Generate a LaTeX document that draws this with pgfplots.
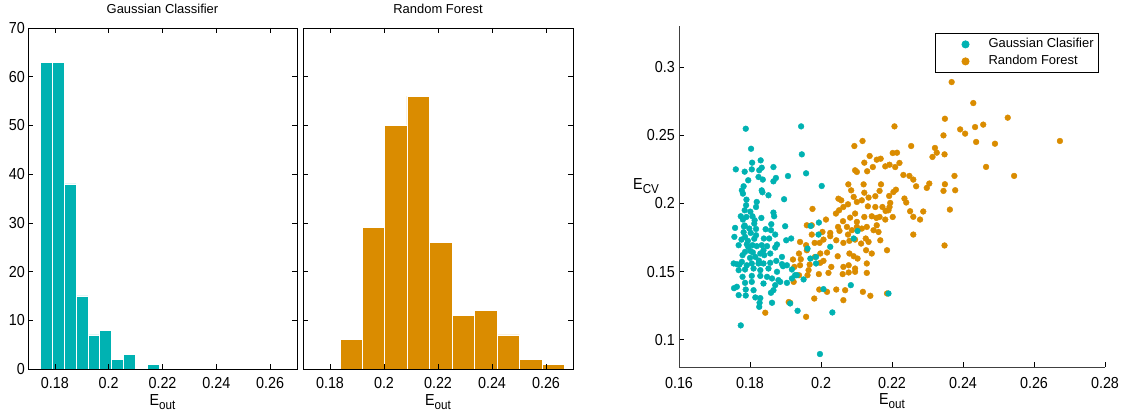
\documentclass[border=0pt]{standalone}
\usepackage{fontspec}
\setmainfont[FakeStretch=0.9]{Liberation Sans}
\newfontfamily\plainfont{Liberation Sans}
\usepackage{pgfplots}
\pgfplotsset{compat=1.18}
\definecolor{gc}{RGB}{0,178,178}
\definecolor{rf}{RGB}{218,140,0}

\pgfplotsset{
  matlab/.style={
    scale only axis,
    /pgf/number format/assume math mode=true,
    tick label style={font=\fontsize{16}{16}\selectfont},
    tick align=inside,
    major tick length=5bp,
    tick style={black, line width=0.6bp},
    axis line style={line width=0.8bp},
    xticklabel style={anchor=north, inner sep=0pt, yshift=-8bp},
    yticklabel style={anchor=east, inner sep=0pt, xshift=-3bp},
    xlabel style={font=\fontsize{16}{16}\selectfont, at={(axis description cs:0.5,0)},
      anchor=base, inner sep=0pt, yshift=-36bp},
    title style={font=\plainfont\fontsize{13}{13}\selectfont, at={(axis description cs:0.5,1)},
      anchor=base, inner sep=0pt, yshift=9bp},
  },
  hist/.style={matlab, width=269bp, height=341bp, axis on top,
    xmin=0.17, xmax=0.27, ymin=0, ymax=70,
    xtick={0.18,0.2,0.22,0.24,0.26}, ytick={0,10,20,30,40,50,60,70}},
}
\newcommand{\Eout}{E\raisebox{-0.5ex}{\fontsize{13}{13}\selectfont out}}

\begin{document}
\begin{tikzpicture}
\useasboundingbox (0,0) rectangle (1124bp,412bp);

% histogram, gaussian classifier
\begin{axis}[hist, at={(28bp,43bp)}, title={Gaussian Classifier}, xlabel={\Eout}]
  \addplot[ybar interval, fill=gc, draw=white, line width=0.7bp] coordinates {
    (0.1747,63) (0.1791,63) (0.1835,38) (0.1879,15) (0.1923,7) (0.1967,8)
    (0.2011,2) (0.2055,3) (0.2099,0) (0.2143,1) (0.2187,1)};
\end{axis}

% histogram, random forest
\begin{axis}[hist, at={(303bp,43bp)}, width=270bp, title={Random Forest}, xlabel={\Eout},
    yticklabels={}]
  \addplot[ybar interval, fill=rf, draw=white, line width=0.7bp] coordinates {
    (0.1838,6) (0.1920,29) (0.2002,50) (0.2085,56) (0.2169,26) (0.2253,11)
    (0.2334,12) (0.2419,7) (0.2502,2) (0.2585,1) (0.2667,1)};
\end{axis}

% scatter E_cv against E_out
\begin{axis}[matlab, at={(679bp,45bp)}, width=426bp, height=341bp,
    xmin=0.16, xmax=0.28, ymin=0.08, ymax=0.33,
    axis x line*=bottom, axis y line*=left,
    axis line style={black!75, line width=0.8bp},
    xtick={0.16,0.18,0.2,0.22,0.24,0.26,0.28},
    ytick={0.1,0.15,0.2,0.25,0.3},
    xticklabel style={yshift=-2bp},
    yticklabel style={xshift=-1bp},
    xlabel={\Eout}, xlabel style={yshift=-1bp},
    ylabel={E\raisebox{-0.5ex}{\fontsize{13}{13}\selectfont CV}},
    ylabel style={rotate=-90, font=\fontsize{16}{16}\selectfont,
      at={(axis description cs:-0.108,0.52)}, anchor=base west, inner sep=0pt},
    legend style={at={(axis description cs:1,1)}, anchor=north east, xshift=-6bp, yshift=-7bp,
      draw=black, line width=0.8bp, font=\plainfont\fontsize{13}{13}\selectfont,
      inner xsep=2bp, inner ysep=4bp, row sep=3bp,
      nodes={inner xsep=3bp, inner ysep=1bp, text height=9bp, text depth=3bp}},
    legend cell align=left, reverse legend,
    legend image code/.code={\path[draw=none, fill=none] (0bp,-4bp) rectangle (48bp,4bp);
      \draw[#1, mark size=3.6bp] plot coordinates {(28bp,0bp)};},
  ]
  \addplot[only marks, mark=*, mark size=2.9bp, color=rf] table {
x y
0.2207 0.2564
0.2094 0.2420
0.2117 0.2457
0.2214 0.2371
0.2202 0.2369
0.2137 0.2347
0.2122 0.2298
0.2157 0.2320
0.2168 0.2327
0.2193 0.2283
0.2096 0.2242
0.2101 0.2230
0.2130 0.2235
0.2146 0.2266
0.2181 0.2271
0.2209 0.2266
0.2221 0.2296
0.2077 0.2139
0.2085 0.2095
0.2120 0.2139
0.2092 0.2047
0.2122 0.2078
0.2134 0.2042
0.2153 0.2052
0.2169 0.2139
0.2165 0.2091
0.2192 0.2054
0.2204 0.2083
0.2211 0.2100
0.1976 0.1959
0.2049 0.2034
0.2057 0.2022
0.2063 0.1973
0.2076 0.1993
0.2101 0.2010
0.2115 0.2022
0.2132 0.1978
0.2153 0.1973
0.2173 0.1973
0.2182 0.1944
0.2193 0.1973
0.2195 0.2003
0.2190 0.1949
0.2014 0.1881
0.2042 0.1925
0.2051 0.1949
0.2062 0.1869
0.2082 0.1895
0.2096 0.1925
0.2101 0.1864
0.2122 0.1900
0.2143 0.1905
0.2156 0.1893
0.2165 0.1900
0.2181 0.1881
0.2202 0.1900
0.1960 0.1839
0.1974 0.1839
0.1974 0.1771
0.2004 0.1790
0.2026 0.1783
0.2048 0.1827
0.2052 0.1798
0.2073 0.1827
0.2076 0.1771
0.2087 0.1803
0.2101 0.1827
0.2115 0.1815
0.2129 0.1827
0.2148 0.1803
0.2162 0.1790
0.2157 0.1839
0.1941 0.1717
0.1958 0.1693
0.1982 0.1710
0.1996 0.1710
0.2007 0.1734
0.2026 0.1759
0.2043 0.1729
0.2063 0.1710
0.2080 0.1725
0.2096 0.1734
0.2113 0.1705
0.2126 0.1742
0.2134 0.1717
0.2167 0.1729
0.1938 0.1632
0.1943 0.1590
0.1960 0.1656
0.1983 0.1607
0.1998 0.1632
0.2017 0.1639
0.2047 0.1612
0.2080 0.1632
0.2092 0.1612
0.2103 0.1595
0.2127 0.1656
0.2143 0.1632
0.2186 0.1656
0.1921 0.1588
0.1925 0.1534
0.1941 0.1546
0.1968 0.1551
0.1998 0.1564
0.2007 0.1578
0.2029 0.1534
0.2063 0.1534
0.2078 0.1546
0.2096 0.1522
0.2129 0.1559
0.1965 0.1510
0.1938 0.1473
0.1923 0.1424
0.1962 0.1473
0.1994 0.1481
0.2021 0.1490
0.2061 0.1481
0.2078 0.1493
0.2096 0.1498
0.2129 0.1490
0.1995 0.1368
0.1981 0.1302
0.2017 0.1351
0.2043 0.1368
0.2068 0.1363
0.2063 0.1290
0.2118 0.1351
0.2139 0.1322
0.2186 0.1339
0.1909 0.1276
0.1913 0.1271
0.1843 0.1198
0.1958 0.1168
0.2368 0.2889
0.2429 0.2735
0.2349 0.2620
0.2526 0.2628
0.2392 0.2542
0.2406 0.2511
0.2434 0.2559
0.2457 0.2577
0.2437 0.2450
0.2490 0.2437
0.2345 0.2498
0.2673 0.2457
0.2254 0.2420
0.2321 0.2406
0.2326 0.2371
0.2314 0.2340
0.2348 0.2359
0.2465 0.2267
0.2232 0.2208
0.2249 0.2201
0.2260 0.2174
0.2268 0.2125
0.2298 0.2113
0.2305 0.2145
0.2376 0.2201
0.2544 0.2201
0.2345 0.2091
0.2349 0.2140
0.2378 0.2096
0.2235 0.2035
0.2240 0.2006
0.2251 0.1942
0.2260 0.1901
0.2279 0.1881
0.2288 0.1940
0.2363 0.1954
0.2260 0.1771
0.2348 0.1691
};
  \addlegendentry{Random Forest}
  \addplot[only marks, mark=*, mark size=2.9bp, color=gc] table {
x y
0.1788 0.2547
0.1944 0.2564
0.1803 0.2400
0.1946 0.2359
0.1806 0.2298
0.1830 0.2315
0.1866 0.2266
0.1760 0.2249
0.1785 0.2232
0.1805 0.2249
0.1826 0.2242
0.1833 0.2261
0.1836 0.2174
0.1824 0.2193
0.1866 0.2161
0.1873 0.2186
0.1907 0.2200
0.1958 0.2220
0.1795 0.2169
0.1782 0.2125
0.1777 0.2095
0.1780 0.2071
0.1833 0.2095
0.1835 0.2081
0.1852 0.2059
0.1790 0.2027
0.2002 0.2127
0.1896 0.2030
0.1819 0.2010
0.1817 0.1973
0.1789 0.1986
0.1785 0.1949
0.1801 0.1939
0.1807 0.1905
0.1774 0.1905
0.1780 0.1881
0.1813 0.1876
0.1832 0.1893
0.1866 0.1932
0.1868 0.1905
0.1812 0.1851
0.1785 0.1837
0.1758 0.1820
0.1798 0.1815
0.1817 0.1812
0.1844 0.1810
0.1860 0.1847
0.1859 0.1803
0.1899 0.1832
0.1782 0.1788
0.1802 0.1783
0.1786 0.1754
0.1756 0.1754
0.1776 0.1734
0.1794 0.1725
0.1817 0.1766
0.1854 0.1742
0.1871 0.1771
0.1839 0.1742
0.1916 0.1742
0.1902 0.1729
0.1768 0.1693
0.1791 0.1700
0.1807 0.1693
0.1819 0.1686
0.1833 0.1693
0.1848 0.1686
0.1871 0.1676
0.1876 0.1698
0.1801 0.1651
0.1829 0.1632
0.1815 0.1607
0.1838 0.1656
0.1786 0.1644
0.1857 0.1632
0.1890 0.1607
0.1754 0.1559
0.1763 0.1554
0.1777 0.1571
0.1791 0.1546
0.1805 0.1559
0.1824 0.1559
0.1838 0.1559
0.1857 0.1564
0.1874 0.1578
0.1890 0.1554
0.1904 0.1546
0.1768 0.1510
0.1786 0.1515
0.1810 0.1522
0.1829 0.1510
0.1852 0.1522
0.1876 0.1498
0.1893 0.1539
0.1918 0.1515
0.1779 0.1461
0.1805 0.1468
0.1829 0.1468
0.1848 0.1461
0.1862 0.1449
0.1880 0.1437
0.1904 0.1417
0.1932 0.1473
0.1786 0.1417
0.1805 0.1424
0.1838 0.1412
0.1871 0.1400
0.1885 0.1424
0.1763 0.1388
0.1755 0.1378
0.1788 0.1368
0.1810 0.1363
0.1859 0.1344
0.1866 0.1363
0.1768 0.1327
0.1788 0.1324
0.1815 0.1310
0.1829 0.1305
0.1862 0.1271
0.1827 0.1271
0.1826 0.1241
0.1913 0.1266
0.1934 0.1212
0.2032 0.1200
0.1774 0.1105
0.1971 0.1834
0.1994 0.1859
0.1993 0.1771
0.1970 0.1595
0.1986 0.1607
0.1986 0.1559
0.1962 0.1668
0.2026 0.1681
0.2007 0.1371
0.2084 0.1400
0.2190 0.1339
0.2103 0.1797
0.2092 0.1742
0.1951 0.1442
0.1918 0.1449
0.1927 0.1473
0.1997 0.0895
0.1779 0.1620
0.1795 0.1680
0.1783 0.1830
0.1800 0.1600
0.1812 0.1740
0.1790 0.1900
0.1825 0.1580
0.1770 0.1550
0.1808 0.1640
0.1840 0.1620
};
  \addlegendentry{Gaussian Clasifier}
\end{axis}
\end{tikzpicture}
\end{document}
